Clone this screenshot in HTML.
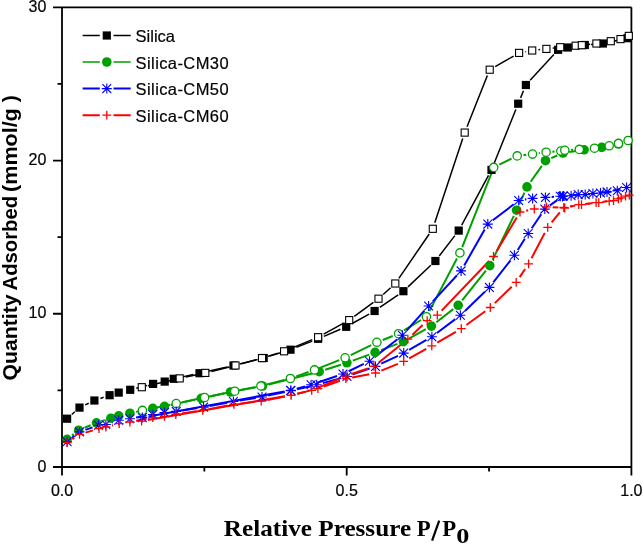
<!DOCTYPE html>
<html><head><meta charset="utf-8"><style>
html,body{margin:0;padding:0;background:#fff;width:643px;height:544px;overflow:hidden}
svg{display:block;will-change:transform}
.lg{font-family:"Liberation Sans",sans-serif;font-size:16.5px;fill:#000;stroke:#000;stroke-width:0.2px}
.tk{font-family:"Liberation Sans",sans-serif;font-size:16px;fill:#000;stroke:#000;stroke-width:0.2px}
.xt{font-family:"Liberation Serif",serif;font-size:24px;font-weight:bold;fill:#000}
.sub{font-family:"Liberation Serif",serif;font-size:21.5px;font-weight:bold;fill:#000}
.yt{font-family:"Liberation Sans",sans-serif;font-size:20.75px;font-weight:bold;fill:#000}
</style></head><body>
<svg width="643" height="544" viewBox="0 0 643 544"><path d="M53 7.3H631.4M631.4 7.3V467M53 467H631.4M62 7.3V475.6M53 313.77H62M53 160.53H62M57.5 390.38H62M57.5 237.15H62M57.5 83.92H62M346.7 467V475.6M631.4 467V475.6M204.35 467V471.5M489.05 467V471.5" stroke="#000" stroke-width="1.8" fill="none"/>
<path d="M71.79 414.5L74.81 411.8M85.19 404.89L88.71 403.21M100.35 398.43L103.65 397.27M136.3 388.23L147 385.47M179.96 377.46L193.34 374.54M205.64 371.81L227.36 366.89M239.61 363.98L257.59 359.52M269.72 356.14L284.48 351.56M296.36 347.39L312.24 341.11M323.89 336.33L340.41 329.27M351.71 323.74L369.09 314.06M379.79 307.43L398.21 294.77M407.98 286.88L430.82 265.32M439.23 256L454.87 235.6M461.69 225.06L488.51 175.44M493.86 164.06L515.84 109.54M520.6 97.87L523.5 90.83M530.15 80.35L553.85 54.45M574.03 46.58L578.57 45.92M591.08 44.48L596.62 44.02M609.06 42.17L621.34 39.53" stroke="#000000" stroke-width="1.5" fill="none" stroke-linecap="butt"/>
<path d="M147.94 385.78L173.56 379.82M185.86 377.08L199.14 374.22M211.42 371.4L229.38 367M241.57 363.81L255.93 359.79M268.02 356.25L278.08 353.15M289.92 348.89L312.28 339.61M323.62 334.16L343.68 323.14M354.29 316.38L373.41 302.42M383.17 294.47L390.63 287.73M398.86 278.3L429.24 234M434.78 222.82L462.72 138.58M467.03 126.75L487.37 75.55M495.17 66.57L513.63 56.03M525.3 51.76L526 51.64M538.46 49.79L540.14 49.61M552.65 48.13L553.95 47.97M566.47 46.59L569.43 46.31M588.06 44.47L590.14 44.23M602.62 42.51L604.58 42.19" stroke="#000000" stroke-width="1.5" fill="none" stroke-linecap="butt"/>
<path d="M72.06 435.41L73.74 434.09M84.52 427.78L90.68 425.22M102.5 420.88L104.9 420.12M136.06 411.88L146.64 409.62M170.66 404.96L195.04 399.64M207.36 396.98L224.34 393.32M236.69 390.84L256.31 387.16M268.61 384.46L313.09 373.24M325.2 369.77L340.9 364.73M352.81 360.62L369.19 354.58M380.99 350.15L397.51 343.85M408.91 338.55L425.89 329.15M436.38 322.24L453.22 309.16M462.12 300.37L485.88 270.53M492.54 259.93L513.86 215.87M519.17 204.45L524.43 192.65M530.63 181.75L541.87 165.85M551.27 158.16L557.23 155.54M569.23 152.06L577.87 150.74M590.34 148.95L595.46 148.25M607.87 146.15L612.33 145.25" stroke="#00a000" stroke-width="2.0" fill="none" stroke-linecap="butt"/>
<path d="M148.58 409.16L170.02 404.84M182.36 402.28L198.44 398.82M210.77 396.21L228.53 392.49M240.87 389.95L254.73 387.15M267.01 384.37L284.29 380.03M296.33 376.38L308.57 372.02M320.36 367.58L339.24 360.12M350.76 355.04L371.24 345.06M382.76 339.98L392.74 336.02M403.97 330.41L421.03 319.99M429.33 311.12L456.97 258.48M462.22 247.04L491.38 173.26M499.36 164.63L511.54 158.67M523.46 155.16L526.24 154.84M538.74 153.23L539.86 153.07M552.38 151.73L554.52 151.57M571.09 149.91L573.01 149.79M585.58 148.9L588.22 148.7M600.72 147.18L602.98 146.82" stroke="#00a000" stroke-width="2.0" fill="none" stroke-linecap="butt"/>
<path d="M72.02 437.87L74.58 435.83M85.45 429.83L92.55 427.37M111.89 422.54L112.71 422.26M136.1 417.56L146.6 415.64M182.42 410.42L197.38 408.08M209.79 405.94L227.21 402.66M239.62 400.52L255.78 397.98M268.15 395.64L284.85 391.96M297.15 389.21L310.55 386.19M322.78 383.14L340.92 378.16M352.94 374.4L369.56 368.5M381.2 363.71L398 355.79M409.15 349.95L426.45 339.95M436.93 333.01L455.37 319.09M464.94 310.93L484.86 291.77M493.27 282.43L510.53 260.27M517.77 249.98L524.83 238.82M531.74 228.29L541.26 214.31M549.92 205.43L557.28 200.17M577.38 195.21L578.92 195.09M591.47 193.94L594.23 193.66M606.75 192.18L611.05 191.62" stroke="#0000ff" stroke-width="2.0" fill="none" stroke-linecap="butt"/>
<path d="M148.5 416.46L284.4 391.54M296.68 388.74L305.02 386.46M317.07 382.78L337.03 376.02M348.67 371.26L363.83 363.94M374.45 357.3L397.45 339.2M406.6 330.6L424.4 310.7M432.88 301.38L456.82 275.52M464.22 265.43L484.68 229.57M492.81 220.28L513.69 204.32M524.93 199.56L526.37 199.34M551.68 196.89L554.02 196.71M569.68 195.35L571.92 195.15M584.48 194.13L586.62 193.97M599.16 192.79L600.74 192.61M613.15 190.52L620.45 188.88" stroke="#0000ff" stroke-width="2.0" fill="none" stroke-linecap="butt"/>
<path d="M72.35 439.12L74.25 437.88M85.54 432.6L92.96 430.4M112 425.44L113.1 425.16M136.09 420.81L146.61 418.79M182.03 413.55L196.57 411.35M208.99 409.21L227.71 405.59M240.15 403.64L254.95 401.86M267.39 399.92L285.01 396.58M297.31 393.85L311.79 390.15M323.83 386.48L339.97 380.72M352.09 377.43L369.31 374.17M381.33 370.6L397.87 363.8M409.21 358.34L426.29 348.86M437.25 342.64L455.85 331.86M466.39 324.98L485.21 311.22M494.82 303.12L511.68 286.78M519.69 277.16L525.11 269.04M531.52 258.22L544.78 232.88M551.67 222.41L559.83 212.39M570.02 206.48L575.28 205.62M587.75 203.79L589.85 203.51M602.35 201.95L607.25 201.35" stroke="#ff0000" stroke-width="2.0" fill="none" stroke-linecap="butt"/>
<path d="M147.81 420.02L284.79 396.28M297.14 393.78L305.56 391.82M317.5 387.94L339.6 378.56M351.36 374.07L367.94 368.43M378.81 362.46L402.99 343.04M412.46 334.75L422.64 325.05M441.66 310.65L489.14 261.05M496.72 251.09L516.78 217.41M526.17 210.71L528.13 210.29M552.69 207.21L558.41 207.59M570.82 206.52L572.68 206.08M585.07 203.97L592.53 203.23" stroke="#ff0000" stroke-width="2.0" fill="none" stroke-linecap="butt"/>
<rect x="63" y="414.6" width="8.2" height="8.2" fill="#000"/>
<rect x="75.4" y="403.5" width="8.2" height="8.2" fill="#000"/>
<rect x="90.3" y="396.4" width="8.2" height="8.2" fill="#000"/>
<rect x="105.5" y="391.1" width="8.2" height="8.2" fill="#000"/>
<rect x="114.6" y="388.5" width="8.2" height="8.2" fill="#000"/>
<rect x="126.1" y="385.7" width="8.2" height="8.2" fill="#000"/>
<rect x="149" y="379.8" width="8.2" height="8.2" fill="#000"/>
<rect x="160.6" y="377.5" width="8.2" height="8.2" fill="#000"/>
<rect x="169.7" y="374.7" width="8.2" height="8.2" fill="#000"/>
<rect x="195.4" y="369.1" width="8.2" height="8.2" fill="#000"/>
<rect x="229.4" y="361.4" width="8.2" height="8.2" fill="#000"/>
<rect x="259.6" y="353.9" width="8.2" height="8.2" fill="#000"/>
<rect x="286.4" y="345.6" width="8.2" height="8.2" fill="#000"/>
<rect x="314" y="334.7" width="8.2" height="8.2" fill="#000"/>
<rect x="342.1" y="322.7" width="8.2" height="8.2" fill="#000"/>
<rect x="370.5" y="306.9" width="8.2" height="8.2" fill="#000"/>
<rect x="399.3" y="287.1" width="8.2" height="8.2" fill="#000"/>
<rect x="431.3" y="256.9" width="8.2" height="8.2" fill="#000"/>
<rect x="454.6" y="226.5" width="8.2" height="8.2" fill="#000"/>
<rect x="487.4" y="165.8" width="8.2" height="8.2" fill="#000"/>
<rect x="514.1" y="99.6" width="8.2" height="8.2" fill="#000"/>
<rect x="521.8" y="80.9" width="8.2" height="8.2" fill="#000"/>
<rect x="554" y="45.7" width="8.2" height="8.2" fill="#000"/>
<rect x="563.7" y="43.4" width="8.2" height="8.2" fill="#000"/>
<rect x="580.7" y="40.9" width="8.2" height="8.2" fill="#000"/>
<rect x="598.8" y="39.4" width="8.2" height="8.2" fill="#000"/>
<rect x="623.4" y="34.1" width="8.2" height="8.2" fill="#000"/>
<rect x="138.25" y="383.65" width="7.1" height="7.1" fill="#fff" stroke="#000" stroke-width="1.1"/>
<rect x="176.15" y="374.85" width="7.1" height="7.1" fill="#fff" stroke="#000" stroke-width="1.1"/>
<rect x="201.75" y="369.35" width="7.1" height="7.1" fill="#fff" stroke="#000" stroke-width="1.1"/>
<rect x="231.95" y="361.95" width="7.1" height="7.1" fill="#fff" stroke="#000" stroke-width="1.1"/>
<rect x="258.45" y="354.55" width="7.1" height="7.1" fill="#fff" stroke="#000" stroke-width="1.1"/>
<rect x="280.55" y="347.75" width="7.1" height="7.1" fill="#fff" stroke="#000" stroke-width="1.1"/>
<rect x="314.55" y="333.65" width="7.1" height="7.1" fill="#fff" stroke="#000" stroke-width="1.1"/>
<rect x="345.65" y="316.55" width="7.1" height="7.1" fill="#fff" stroke="#000" stroke-width="1.1"/>
<rect x="374.95" y="295.15" width="7.1" height="7.1" fill="#fff" stroke="#000" stroke-width="1.1"/>
<rect x="391.75" y="279.95" width="7.1" height="7.1" fill="#fff" stroke="#000" stroke-width="1.1"/>
<rect x="429.25" y="225.25" width="7.1" height="7.1" fill="#fff" stroke="#000" stroke-width="1.1"/>
<rect x="461.15" y="129.05" width="7.1" height="7.1" fill="#fff" stroke="#000" stroke-width="1.1"/>
<rect x="486.15" y="66.15" width="7.1" height="7.1" fill="#fff" stroke="#000" stroke-width="1.1"/>
<rect x="515.55" y="49.35" width="7.1" height="7.1" fill="#fff" stroke="#000" stroke-width="1.1"/>
<rect x="528.65" y="46.95" width="7.1" height="7.1" fill="#fff" stroke="#000" stroke-width="1.1"/>
<rect x="542.85" y="45.35" width="7.1" height="7.1" fill="#fff" stroke="#000" stroke-width="1.1"/>
<rect x="556.65" y="43.65" width="7.1" height="7.1" fill="#fff" stroke="#000" stroke-width="1.1"/>
<rect x="572.15" y="42.15" width="7.1" height="7.1" fill="#fff" stroke="#000" stroke-width="1.1"/>
<rect x="578.25" y="41.65" width="7.1" height="7.1" fill="#fff" stroke="#000" stroke-width="1.1"/>
<rect x="592.85" y="39.95" width="7.1" height="7.1" fill="#fff" stroke="#000" stroke-width="1.1"/>
<rect x="607.25" y="37.65" width="7.1" height="7.1" fill="#fff" stroke="#000" stroke-width="1.1"/>
<rect x="616.95" y="35.55" width="7.1" height="7.1" fill="#fff" stroke="#000" stroke-width="1.1"/>
<rect x="625.25" y="32.35" width="7.1" height="7.1" fill="#fff" stroke="#000" stroke-width="1.1"/>
<circle cx="67.1" cy="439.3" r="4.8" fill="#00a000"/>
<circle cx="78.7" cy="430.2" r="4.8" fill="#00a000"/>
<circle cx="96.5" cy="422.8" r="4.8" fill="#00a000"/>
<circle cx="110.9" cy="418.2" r="4.8" fill="#00a000"/>
<circle cx="118.7" cy="415.9" r="4.8" fill="#00a000"/>
<circle cx="129.9" cy="413.2" r="4.8" fill="#00a000"/>
<circle cx="152.8" cy="408.3" r="4.8" fill="#00a000"/>
<circle cx="164.5" cy="406.3" r="4.8" fill="#00a000"/>
<circle cx="201.2" cy="398.3" r="4.8" fill="#00a000"/>
<circle cx="230.5" cy="392" r="4.8" fill="#00a000"/>
<circle cx="262.5" cy="386" r="4.8" fill="#00a000"/>
<circle cx="319.2" cy="371.7" r="4.8" fill="#00a000"/>
<circle cx="346.9" cy="362.8" r="4.8" fill="#00a000"/>
<circle cx="375.1" cy="352.4" r="4.8" fill="#00a000"/>
<circle cx="403.4" cy="341.6" r="4.8" fill="#00a000"/>
<circle cx="431.4" cy="326.1" r="4.8" fill="#00a000"/>
<circle cx="458.2" cy="305.3" r="4.8" fill="#00a000"/>
<circle cx="489.8" cy="265.6" r="4.8" fill="#00a000"/>
<circle cx="516.6" cy="210.2" r="4.8" fill="#00a000"/>
<circle cx="527" cy="186.9" r="4.8" fill="#00a000"/>
<circle cx="545.5" cy="160.7" r="4.8" fill="#00a000"/>
<circle cx="563" cy="153" r="4.8" fill="#00a000"/>
<circle cx="584.1" cy="149.8" r="4.8" fill="#00a000"/>
<circle cx="601.7" cy="147.4" r="4.8" fill="#00a000"/>
<circle cx="618.5" cy="144" r="4.8" fill="#00a000"/>
<circle cx="142.4" cy="410.4" r="4.15" fill="#fff" stroke="#00a000" stroke-width="1.3"/>
<circle cx="176.2" cy="403.6" r="4.15" fill="#fff" stroke="#00a000" stroke-width="1.3"/>
<circle cx="204.6" cy="397.5" r="4.15" fill="#fff" stroke="#00a000" stroke-width="1.3"/>
<circle cx="234.7" cy="391.2" r="4.15" fill="#fff" stroke="#00a000" stroke-width="1.3"/>
<circle cx="260.9" cy="385.9" r="4.15" fill="#fff" stroke="#00a000" stroke-width="1.3"/>
<circle cx="290.4" cy="378.5" r="4.15" fill="#fff" stroke="#00a000" stroke-width="1.3"/>
<circle cx="314.5" cy="369.9" r="4.15" fill="#fff" stroke="#00a000" stroke-width="1.3"/>
<circle cx="345.1" cy="357.8" r="4.15" fill="#fff" stroke="#00a000" stroke-width="1.3"/>
<circle cx="376.9" cy="342.3" r="4.15" fill="#fff" stroke="#00a000" stroke-width="1.3"/>
<circle cx="398.6" cy="333.7" r="4.15" fill="#fff" stroke="#00a000" stroke-width="1.3"/>
<circle cx="426.4" cy="316.7" r="4.15" fill="#fff" stroke="#00a000" stroke-width="1.3"/>
<circle cx="459.9" cy="252.9" r="4.15" fill="#fff" stroke="#00a000" stroke-width="1.3"/>
<circle cx="493.7" cy="167.4" r="4.15" fill="#fff" stroke="#00a000" stroke-width="1.3"/>
<circle cx="517.2" cy="155.9" r="4.15" fill="#fff" stroke="#00a000" stroke-width="1.3"/>
<circle cx="532.5" cy="154.1" r="4.15" fill="#fff" stroke="#00a000" stroke-width="1.3"/>
<circle cx="546.1" cy="152.2" r="4.15" fill="#fff" stroke="#00a000" stroke-width="1.3"/>
<circle cx="560.8" cy="151.1" r="4.15" fill="#fff" stroke="#00a000" stroke-width="1.3"/>
<circle cx="564.8" cy="150.3" r="4.15" fill="#fff" stroke="#00a000" stroke-width="1.3"/>
<circle cx="579.3" cy="149.4" r="4.15" fill="#fff" stroke="#00a000" stroke-width="1.3"/>
<circle cx="594.5" cy="148.2" r="4.15" fill="#fff" stroke="#00a000" stroke-width="1.3"/>
<circle cx="609.2" cy="145.8" r="4.15" fill="#fff" stroke="#00a000" stroke-width="1.3"/>
<circle cx="618.5" cy="143.4" r="4.15" fill="#fff" stroke="#00a000" stroke-width="1.3"/>
<circle cx="628.1" cy="140.5" r="4.15" fill="#fff" stroke="#00a000" stroke-width="1.3"/>
<path d="M67.1 436.8V446.8M62.1 441.8H72.1M62.7 437.4L71.5 446.2M62.7 446.2L71.5 437.4M79.5 426.9V436.9M74.5 431.9H84.5M75.1 427.5L83.9 436.3M75.1 436.3L83.9 427.5M98.5 420.3V430.3M93.5 425.3H103.5M94.1 420.9L102.9 429.7M94.1 429.7L102.9 420.9M105.9 419.5V429.5M100.9 424.5H110.9M101.5 420.1L110.3 428.9M101.5 428.9L110.3 420.1M118.7 415.3V425.3M113.7 420.3H123.7M114.3 415.9L123.1 424.7M114.3 424.7L123.1 415.9M129.9 413.7V423.7M124.9 418.7H134.9M125.5 414.3L134.3 423.1M125.5 423.1L134.3 414.3M152.8 409.5V419.5M147.8 414.5H157.8M148.4 410.1L157.2 418.9M148.4 418.9L157.2 410.1M164.5 407.6V417.6M159.5 412.6H169.5M160.1 408.2L168.9 417M160.1 417L168.9 408.2M176.2 406.4V416.4M171.2 411.4H181.2M171.8 407L180.6 415.8M171.8 415.8L180.6 407M203.6 402.1V412.1M198.6 407.1H208.6M199.2 402.7L208 411.5M199.2 411.5L208 402.7M233.4 396.5V406.5M228.4 401.5H238.4M229 397.1L237.8 405.9M229 405.9L237.8 397.1M262 392V402M257 397H267M257.6 392.6L266.4 401.4M257.6 401.4L266.4 392.6M291 385.6V395.6M286 390.6H296M286.6 386.2L295.4 395M286.6 395L295.4 386.2M316.7 379.8V389.8M311.7 384.8H321.7M312.3 380.4L321.1 389.2M312.3 389.2L321.1 380.4M347 371.5V381.5M342 376.5H352M342.6 372.1L351.4 380.9M342.6 380.9L351.4 372.1M375.5 361.4V371.4M370.5 366.4H380.5M371.1 362L379.9 370.8M371.1 370.8L379.9 362M403.7 348.1V358.1M398.7 353.1H408.7M399.3 348.7L408.1 357.5M399.3 357.5L408.1 348.7M431.9 331.8V341.8M426.9 336.8H436.9M427.5 332.4L436.3 341.2M427.5 341.2L436.3 332.4M460.4 310.3V320.3M455.4 315.3H465.4M456 310.9L464.8 319.7M456 319.7L464.8 310.9M489.4 282.4V292.4M484.4 287.4H494.4M485 283L493.8 291.8M485 291.8L493.8 283M514.4 250.3V260.3M509.4 255.3H519.4M510 250.9L518.8 259.7M510 259.7L518.8 250.9M528.2 228.5V238.5M523.2 233.5H533.2M523.8 229.1L532.6 237.9M523.8 237.9L532.6 229.1M544.8 204.1V214.1M539.8 209.1H549.8M540.4 204.7L549.2 213.5M540.4 213.5L549.2 204.7M562.4 191.5V201.5M557.4 196.5H567.4M558 192.1L566.8 200.9M558 200.9L566.8 192.1M571.1 190.7V200.7M566.1 195.7H576.1M566.7 191.3L575.5 200.1M566.7 200.1L575.5 191.3M585.2 189.6V199.6M580.2 194.6H590.2M580.8 190.2L589.6 199M580.8 199L589.6 190.2M600.5 188V198M595.5 193H605.5M596.1 188.6L604.9 197.4M596.1 197.4L604.9 188.6M617.3 185.8V195.8M612.3 190.8H622.3M612.9 186.4L621.7 195.2M612.9 195.2L621.7 186.4M626.6 182.5V192.5M621.6 187.5H631.6M622.2 183.1L631 191.9M622.2 191.9L631 183.1M142.3 412.6V422.6M137.3 417.6H147.3M137.9 413.2L146.7 422M137.9 422L146.7 413.2M290.6 385.4V395.4M285.6 390.4H295.6M286.2 386L295 394.8M286.2 394.8L295 386M311.1 379.8V389.8M306.1 384.8H316.1M306.7 380.4L315.5 389.2M306.7 389.2L315.5 380.4M343 369V379M338 374H348M338.6 369.6L347.4 378.4M338.6 378.4L347.4 369.6M369.5 356.2V366.2M364.5 361.2H374.5M365.1 356.8L373.9 365.6M365.1 365.6L373.9 356.8M402.4 330.3V340.3M397.4 335.3H407.4M398 330.9L406.8 339.7M398 339.7L406.8 330.9M428.6 301V311M423.6 306H433.6M424.2 301.6L433 310.4M424.2 310.4L433 301.6M461.1 265.9V275.9M456.1 270.9H466.1M456.7 266.5L465.5 275.3M456.7 275.3L465.5 266.5M487.8 219.1V229.1M482.8 224.1H492.8M483.4 219.7L492.2 228.5M483.4 228.5L492.2 219.7M518.7 195.5V205.5M513.7 200.5H523.7M514.3 196.1L523.1 204.9M514.3 204.9L523.1 196.1M532.6 193.4V203.4M527.6 198.4H537.6M528.2 194L537 202.8M528.2 202.8L537 194M545.4 192.4V202.4M540.4 197.4H550.4M541 193L549.8 201.8M541 201.8L549.8 193M560.3 191.2V201.2M555.3 196.2H565.3M555.9 191.8L564.7 200.6M555.9 200.6L564.7 191.8M563.4 190.9V200.9M558.4 195.9H568.4M559 191.5L567.8 200.3M559 200.3L567.8 191.5M578.2 189.6V199.6M573.2 194.6H583.2M573.8 190.2L582.6 199M573.8 199L582.6 190.2M592.9 188.5V198.5M587.9 193.5H597.9M588.5 189.1L597.3 197.9M588.5 197.9L597.3 189.1M607 186.9V196.9M602 191.9H612M602.6 187.5L611.4 196.3M602.6 196.3L611.4 187.5M626.6 182.5V192.5M621.6 187.5H631.6M622.2 183.1L631 191.9M622.2 191.9L631 183.1" stroke="#0000ff" stroke-width="1.1" fill="none"/>
<path d="M67.1 438.2V447M62.7 442.6H71.5M79.5 430V438.8M75.1 434.4H83.9M99 424.2V433M94.6 428.6H103.4M105.9 422.6V431.4M101.5 427H110.3M119.2 419.2V428M114.8 423.6H123.6M129.9 417.6V426.4M125.5 422H134.3M152.8 413.2V422M148.4 417.6H157.2M164.5 412V420.8M160.1 416.4H168.9M175.8 410.1V418.9M171.4 414.5H180.2M202.8 406V414.8M198.4 410.4H207.2M233.9 400V408.8M229.5 404.4H238.3M261.2 396.7V405.5M256.8 401.1H265.6M291.2 391V399.8M286.8 395.4H295.6M317.9 384.2V393M313.5 388.6H322.3M345.9 374.2V383M341.5 378.6H350.3M375.5 368.6V377.4M371.1 373H379.9M403.7 357V365.8M399.3 361.4H408.1M431.8 341.4V350.2M427.4 345.8H436.2M461.3 324.3V333.1M456.9 328.7H465.7M490.3 303.1V311.9M485.9 307.5H494.7M516.2 278V286.8M511.8 282.4H520.6M528.6 259.4V268.2M524.2 263.8H533M547.7 222.9V231.7M543.3 227.3H552.1M563.8 203.1V211.9M559.4 207.5H568.2M581.5 200.2V209M577.1 204.6H585.9M596.1 198.3V207.1M591.7 202.7H600.5M613.5 196.2V205M609.1 200.6H617.9M621.1 193.5V202.3M616.7 197.9H625.5M629.3 190.7V199.5M624.9 195.1H633.7M141.6 416.7V425.5M137.2 421.1H146M291 390.8V399.6M286.6 395.2H295.4M311.7 386V394.8M307.3 390.4H316.1M345.4 371.7V380.5M341 376.1H349.8M373.9 362V370.8M369.5 366.4H378.3M407.9 334.7V343.5M403.5 339.1H412.3M427.2 316.3V325.1M422.8 320.7H431.6M437.3 310.8V319.6M432.9 315.2H441.7M493.5 252.1V260.9M489.1 256.5H497.9M520 207.6V216.4M515.6 212H524.4M534.3 204.6V213.4M529.9 209H538.7M546.4 202.4V211.2M542 206.8H550.8M564.7 203.6V212.4M560.3 208H569.1M578.8 200.2V209M574.4 204.6H583.2M598.8 198.2V207M594.4 202.6H603.2M609.2 196.7V205.5M604.8 201.1H613.6M618.4 194.5V203.3M614 198.9H622.8M625.5 191.8V200.6M621.1 196.2H629.9M629.3 190.7V199.5M624.9 195.1H633.7" stroke="#ff0000" stroke-width="1.3" fill="none"/>
<path d="M82.6 35.5H99.8M113.5 35.5H130.7" stroke="#000000" stroke-width="1.5"/>
<rect x="102.7" y="31.4" width="8.2" height="8.2" fill="#000"/>
<text x="135.6" y="42.2" class="lg">Silica</text>
<path d="M82.6 62H99.8M113.5 62H130.7" stroke="#00a000" stroke-width="1.5"/>
<circle cx="106.8" cy="62" r="4.8" fill="#00a000"/>
<text x="135.6" y="68.7" class="lg" textLength="93" lengthAdjust="spacing">Silica-CM30</text>
<path d="M82.6 88.6H99.8M113.5 88.6H130.7" stroke="#0000ff" stroke-width="2.0"/>
<path d="M106.8 83.6V93.6M101.8 88.6H111.8M102.4 84.2L111.2 93M102.4 93L111.2 84.2" stroke="#0000ff" stroke-width="1.1" fill="none"/>
<text x="135.6" y="95.3" class="lg" textLength="93" lengthAdjust="spacing">Silica-CM50</text>
<path d="M82.6 115.2H99.8M113.5 115.2H130.7" stroke="#ff0000" stroke-width="2.0"/>
<path d="M106.8 110.8V119.6M102.4 115.2H111.2" stroke="#ff0000" stroke-width="1.3" fill="none"/>
<text x="135.6" y="121.9" class="lg" textLength="93" lengthAdjust="spacing">Silica-CM60</text>
<text x="46.3" y="471.6" class="tk" text-anchor="end">0</text>
<text x="46.3" y="318.37" class="tk" text-anchor="end">10</text>
<text x="46.3" y="165.13" class="tk" text-anchor="end">20</text>
<text x="46.3" y="11.9" class="tk" text-anchor="end">30</text>
<text x="62" y="495.8" class="tk" text-anchor="middle">0.0</text>
<text x="346.7" y="495.8" class="tk" text-anchor="middle">0.5</text>
<text x="631.4" y="495.8" class="tk" text-anchor="middle">1.0</text>
<g transform="translate(224.7 536.3) scale(1.05 1)"><text x="-0.8" y="0" class="xt">Relative Pressure</text></g>
<g transform="translate(417.3 536.3) scale(0.95 1)"><text x="-0.5" y="0" class="xt">P</text></g>
<g transform="translate(442.6 536.3) scale(0.95 1)"><text x="-0.5" y="0" class="xt">P</text></g>
<path d="M439.2 520.6L432.1 540.6" stroke="#000" stroke-width="2.2"/>
<g transform="translate(457.1 542.7) scale(1.22 1)"><text x="-0.8" y="0" class="sub">0</text></g>
<g transform="translate(16.9 0) rotate(-90)"><text x="-380.4" y="0" class="yt" textLength="86" lengthAdjust="spacingAndGlyphs">Quantity</text><text x="-290.5" y="0" class="yt" textLength="94.6" lengthAdjust="spacingAndGlyphs">Adsorbed</text><text x="-191.9" y="0" class="yt" textLength="96.8" lengthAdjust="spacingAndGlyphs">(mmol/g )</text></g></svg>
</body></html>
